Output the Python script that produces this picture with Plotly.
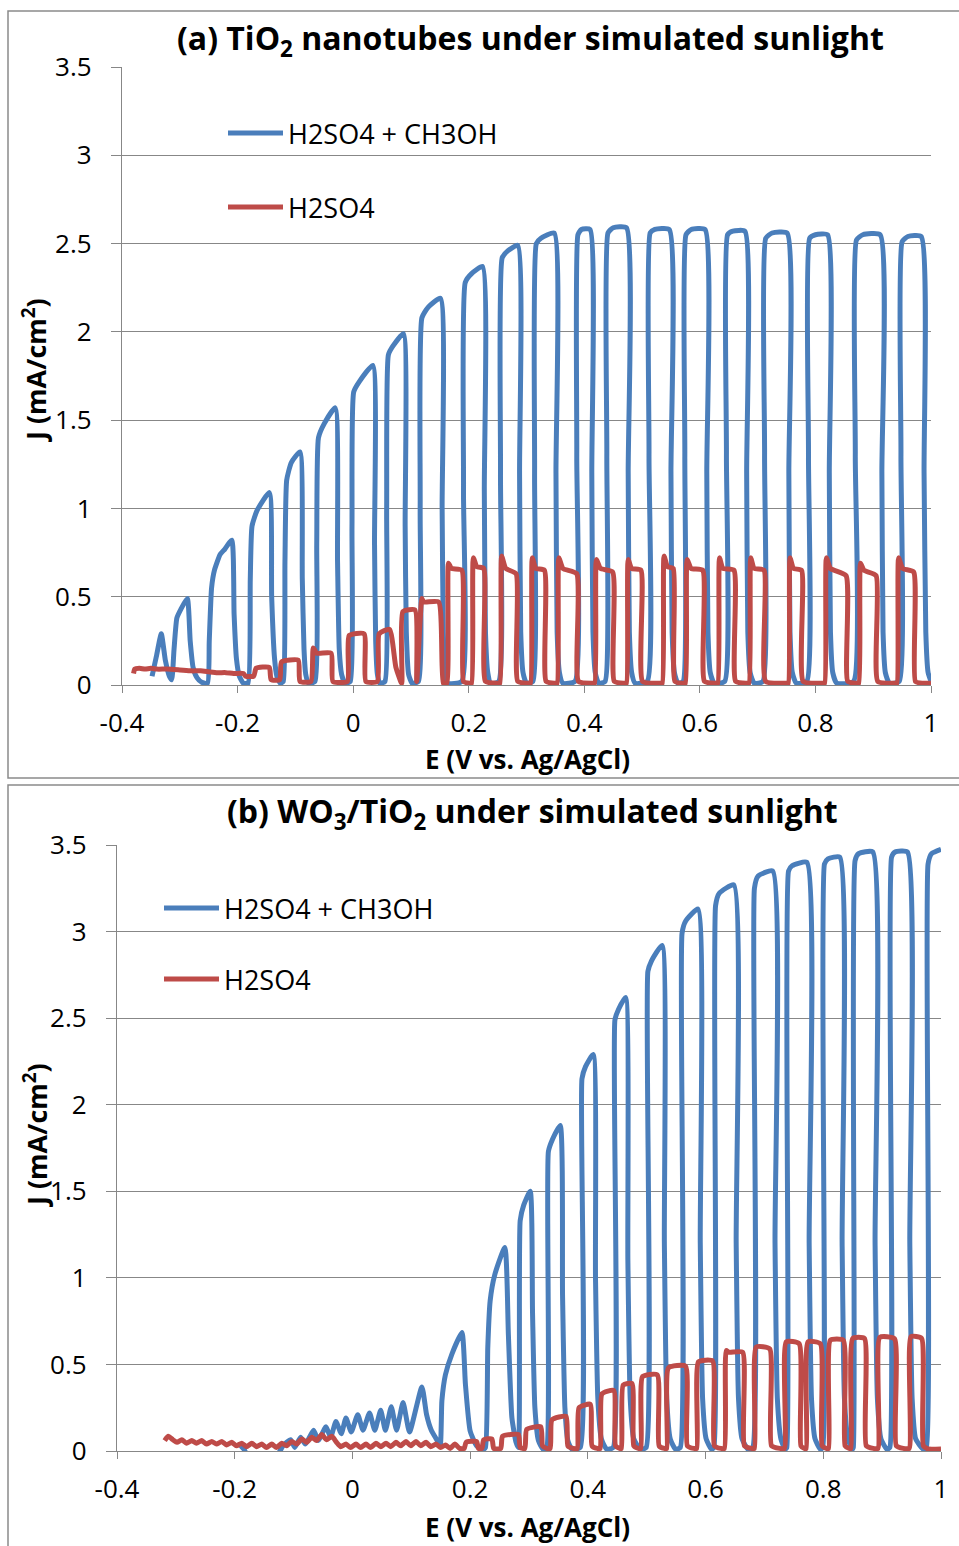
import plotly.graph_objects as go

W, H = 959, 1546

# ---------------- data (E in V vs Ag/AgCl, J in mA/cm2) ----------------
# Panel (a) TiO2 nanotubes, H2SO4 + CH3OH
a_blue = [
    (-0.348, 0.05), (-0.340, 0.17), (-0.332, 0.29), (-0.325, 0.14), (-0.318, 0.05), (-0.314, 0.03),
    (-0.310, 0.20), (-0.305, 0.38), (-0.298, 0.43), (-0.287, 0.49), (-0.282, 0.25), (-0.277, 0.10), (-0.270, 0.04), (-0.262, 0.015), (-0.252, 0.01),
    (-0.249, 0.25), (-0.245, 0.55), (-0.240, 0.65), (-0.230, 0.74), (-0.222, 0.77), (-0.210, 0.82), (-0.206, 0.40), (-0.202, 0.15), (-0.197, 0.05), (-0.190, 0.01),
    (-0.182, 0.01), (-0.178, 0.60), (-0.175, 0.90), (-0.166, 0.99), (-0.145, 1.09), (-0.141, 0.50), (-0.136, 0.15), (-0.132, 0.05), (-0.126, 0.01),
    (-0.121, 0.02), (-0.118, 0.70), (-0.115, 1.16), (-0.107, 1.26), (-0.092, 1.32), (-0.088, 0.60), (-0.085, 0.20), (-0.082, 0.06), (-0.077, 0.01),
    (-0.066, 0.02), (-0.063, 0.80), (-0.060, 1.40), (-0.050, 1.48), (-0.031, 1.57), (-0.027, 0.70), (-0.024, 0.20), (-0.020, 0.06), (-0.014, 0.01),
    (-0.005, 0.02), (-0.002, 0.90), (0.001, 1.66), (0.011, 1.72), (0.034, 1.81), (0.037, 0.80), (0.039, 0.25), (0.042, 0.06), (0.046, 0.01),
    (0.055, 0.02), (0.058, 1.00), (0.061, 1.87), (0.069, 1.92), (0.087, 1.99), (0.090, 0.90), (0.092, 0.30), (0.096, 0.06), (0.102, 0.01),
    (0.113, 0.02), (0.116, 1.00), (0.119, 2.08), (0.130, 2.14), (0.151, 2.19), (0.154, 1.00), (0.156, 0.30), (0.159, 0.07), (0.163, 0.01),
    (0.188, 0.02), (0.191, 1.10), (0.194, 2.28), (0.205, 2.33), (0.224, 2.37), (0.227, 1.10), (0.229, 0.30), (0.233, 0.07), (0.238, 0.01),
    (0.252, 0.02), (0.255, 1.20), (0.258, 2.42), (0.268, 2.46), (0.285, 2.49), (0.288, 1.20), (0.290, 0.30), (0.294, 0.07), (0.300, 0.01),
    (0.311, 0.02), (0.314, 1.20), (0.317, 2.50), (0.325, 2.53), (0.348, 2.56), (0.351, 1.20), (0.353, 0.30), (0.357, 0.07), (0.363, 0.01),
    (0.384, 0.02), (0.387, 1.30), (0.389, 2.55), (0.395, 2.58), (0.410, 2.58), (0.413, 1.20), (0.415, 0.30), (0.419, 0.07), (0.425, 0.01),
    (0.436, 0.02), (0.439, 1.30), (0.441, 2.56), (0.450, 2.59), (0.473, 2.59), (0.476, 1.20), (0.478, 0.30), (0.482, 0.07), (0.488, 0.01),
    (0.509, 0.02), (0.512, 1.30), (0.514, 2.56), (0.522, 2.58), (0.547, 2.58), (0.550, 1.20), (0.552, 0.30), (0.556, 0.07), (0.562, 0.01),
    (0.571, 0.02), (0.574, 1.30), (0.576, 2.55), (0.585, 2.58), (0.609, 2.58), (0.612, 1.20), (0.614, 0.30), (0.618, 0.07), (0.625, 0.01),
    (0.643, 0.02), (0.646, 1.30), (0.648, 2.55), (0.657, 2.57), (0.678, 2.57), (0.681, 1.20), (0.683, 0.30), (0.687, 0.07), (0.694, 0.01),
    (0.709, 0.02), (0.712, 1.30), (0.714, 2.53), (0.725, 2.56), (0.751, 2.56), (0.754, 1.20), (0.756, 0.30), (0.760, 0.07), (0.767, 0.01),
    (0.785, 0.02), (0.788, 1.30), (0.790, 2.53), (0.800, 2.55), (0.821, 2.55), (0.824, 1.20), (0.826, 0.30), (0.830, 0.07), (0.837, 0.01),
    (0.866, 0.02), (0.869, 1.30), (0.871, 2.52), (0.882, 2.55), (0.912, 2.55), (0.915, 1.20), (0.917, 0.30), (0.921, 0.07), (0.928, 0.01),
    (0.945, 0.02), (0.948, 1.30), (0.950, 2.51), (0.960, 2.54), (0.983, 2.54), (0.988, 1.20), (0.991, 0.30), (0.995, 0.07), (1.000, 0.02),
]

# Panel (a) TiO2 nanotubes, H2SO4
a_red = [
    (-0.380, 0.065), (-0.378, 0.09), (-0.370, 0.095), (-0.360, 0.09), (-0.350, 0.095), (-0.340, 0.09), (-0.322, 0.09),
    (-0.300, 0.085), (-0.280, 0.08), (-0.264, 0.08), (-0.250, 0.075), (-0.235, 0.07), (-0.220, 0.07), (-0.207, 0.065),
    (-0.190, 0.065), (-0.186, 0.05), (-0.172, 0.05), (-0.168, 0.095), (-0.145, 0.10), (-0.142, 0.03), (-0.127, 0.03),
    (-0.124, 0.13), (-0.095, 0.14), (-0.092, 0.02), (-0.073, 0.02), (-0.069, 0.21), (-0.063, 0.18), (-0.038, 0.18),
    (-0.035, 0.02), (-0.010, 0.02), (-0.007, 0.28), (0.019, 0.29), (0.022, 0.02), (0.042, 0.02), (0.045, 0.29),
    (0.063, 0.315), (0.074, 0.10), (0.084, 0.01), (0.086, 0.415), (0.107, 0.425), (0.110, 0.02), (0.119, 0.49),
    (0.122, 0.47), (0.148, 0.47), (0.156, 0.01), (0.162, 0.01),
    (0.165, 0.69), (0.170, 0.66), (0.188, 0.65), (0.191, 0.02), (0.201, 0.01),
    (0.205, 0.01), (0.208, 0.72), (0.214, 0.67), (0.226, 0.66), (0.229, 0.02), (0.250, 0.01),
    (0.254, 0.01), (0.257, 0.73), (0.264, 0.66), (0.282, 0.63), (0.285, 0.02), (0.303, 0.01),
    (0.307, 0.01), (0.310, 0.72), (0.316, 0.66), (0.331, 0.65), (0.334, 0.02), (0.349, 0.01),
    (0.353, 0.01), (0.356, 0.72), (0.363, 0.66), (0.387, 0.63), (0.390, 0.02), (0.414, 0.01),
    (0.418, 0.01), (0.421, 0.71), (0.428, 0.66), (0.449, 0.64), (0.452, 0.02), (0.469, 0.01),
    (0.473, 0.01), (0.476, 0.71), (0.482, 0.66), (0.498, 0.65), (0.501, 0.02), (0.531, 0.01),
    (0.535, 0.01), (0.538, 0.73), (0.544, 0.67), (0.554, 0.66), (0.557, 0.02), (0.571, 0.01),
    (0.575, 0.01), (0.578, 0.71), (0.585, 0.66), (0.605, 0.65), (0.608, 0.02), (0.627, 0.01),
    (0.631, 0.01), (0.634, 0.72), (0.640, 0.66), (0.659, 0.65), (0.662, 0.02), (0.681, 0.01),
    (0.685, 0.01), (0.688, 0.72), (0.694, 0.66), (0.711, 0.65), (0.714, 0.02), (0.749, 0.01),
    (0.753, 0.01), (0.756, 0.72), (0.762, 0.66), (0.776, 0.65), (0.779, 0.02), (0.812, 0.01),
    (0.816, 0.01), (0.819, 0.72), (0.826, 0.66), (0.853, 0.62), (0.856, 0.02), (0.871, 0.01),
    (0.875, 0.01), (0.878, 0.69), (0.884, 0.65), (0.905, 0.62), (0.908, 0.02), (0.937, 0.01),
    (0.941, 0.01), (0.944, 0.72), (0.951, 0.66), (0.970, 0.64), (0.973, 0.02), (0.985, 0.01), (1.000, 0.01),
]

# Panel (b) WO3/TiO2, H2SO4 + CH3OH
b_blue = [
    (-0.190, 0.01), (-0.186, 0.02), (-0.178, -0.03), (-0.160, -0.05), (-0.140, -0.04), (-0.125, -0.01),
    (-0.118, 0.03), (-0.105, 0.065), (-0.098, 0.02), (-0.088, 0.08), (-0.080, 0.04), (-0.066, 0.12),
    (-0.058, 0.06), (-0.045, 0.14), (-0.037, 0.08), (-0.028, 0.17), (-0.019, 0.10), (-0.011, 0.19),
    (-0.002, 0.11), (0.009, 0.21), (0.018, 0.12), (0.029, 0.22), (0.038, 0.12), (0.048, 0.235),
    (0.056, 0.12), (0.066, 0.255), (0.075, 0.12), (0.086, 0.28), (0.097, 0.11), (0.118, 0.37),
    (0.126, 0.21), (0.134, 0.12), (0.143, 0.067), (0.149, 0.03),
    (0.152, 0.29), (0.158, 0.44), (0.169, 0.56), (0.186, 0.684), (0.192, 0.385), (0.200, 0.116), (0.211, 0.03), (0.222, 0.01),
    (0.226, 0.02), (0.230, 0.60), (0.234, 0.867), (0.242, 1.02), (0.259, 1.175), (0.265, 0.67), (0.271, 0.19), (0.278, 0.05), (0.282, 0.02),
    (0.285, 1.33), (0.291, 1.42), (0.302, 1.50), (0.306, 0.80), (0.310, 0.25), (0.316, 0.06), (0.324, 0.01),
    (0.330, 0.02), (0.333, 1.73), (0.340, 1.80), (0.353, 1.88), (0.357, 0.90), (0.361, 0.25), (0.366, 0.06), (0.373, 0.01),
    (0.387, 0.02), (0.390, 2.15), (0.396, 2.22), (0.409, 2.29), (0.413, 1.00), (0.417, 0.30), (0.423, 0.07), (0.432, 0.01),
    (0.443, 0.02), (0.446, 2.49), (0.452, 2.55), (0.464, 2.62), (0.468, 1.10), (0.472, 0.30), (0.478, 0.07), (0.489, 0.01),
    (0.499, 0.02), (0.502, 2.77), (0.508, 2.83), (0.526, 2.92), (0.530, 1.20), (0.534, 0.30), (0.540, 0.07), (0.549, 0.01),
    (0.557, 0.02), (0.560, 2.99), (0.566, 3.06), (0.587, 3.13), (0.591, 1.20), (0.595, 0.30), (0.601, 0.07), (0.610, 0.01),
    (0.614, 0.02), (0.617, 3.15), (0.623, 3.22), (0.648, 3.27), (0.652, 1.20), (0.656, 0.30), (0.662, 0.07), (0.672, 0.01),
    (0.680, 0.02), (0.683, 3.25), (0.689, 3.32), (0.714, 3.35), (0.718, 1.20), (0.722, 0.30), (0.728, 0.07), (0.735, 0.01),
    (0.738, 0.02), (0.741, 3.35), (0.747, 3.38), (0.772, 3.40), (0.776, 1.20), (0.780, 0.30), (0.786, 0.07), (0.795, 0.01),
    (0.799, 0.02), (0.802, 3.39), (0.808, 3.42), (0.828, 3.43), (0.832, 1.20), (0.836, 0.30), (0.842, 0.07), (0.849, 0.01),
    (0.851, 0.02), (0.854, 3.41), (0.860, 3.45), (0.884, 3.46), (0.888, 1.20), (0.892, 0.30), (0.898, 0.07), (0.908, 0.01),
    (0.913, 0.02), (0.916, 3.43), (0.922, 3.46), (0.943, 3.46), (0.947, 1.20), (0.951, 0.30), (0.957, 0.07), (0.970, 0.01),
    (0.975, 0.02), (0.978, 3.39), (0.984, 3.45), (1.000, 3.475),
]

# Panel (b) WO3/TiO2, H2SO4
b_red = [
    (-0.319, 0.06), (-0.313, 0.085), (-0.305, 0.065), (-0.298, 0.05), (-0.290, 0.065), (-0.282, 0.045), (-0.273, 0.06),
    (-0.265, 0.045), (-0.256, 0.06), (-0.248, 0.04), (-0.239, 0.055), (-0.231, 0.04), (-0.222, 0.055), (-0.214, 0.035),
    (-0.205, 0.05), (-0.197, 0.03), (-0.188, 0.045), (-0.180, 0.025), (-0.171, 0.045), (-0.163, 0.025), (-0.154, 0.04),
    (-0.146, 0.02), (-0.137, 0.04), (-0.129, 0.02), (-0.120, 0.045), (-0.112, 0.03), (-0.103, 0.055), (-0.095, 0.04),
    (-0.086, 0.07), (-0.078, 0.05), (-0.069, 0.08), (-0.061, 0.06), (-0.052, 0.095), (-0.044, 0.065), (-0.035, 0.085),
    (-0.027, 0.05), (-0.020, 0.025), (-0.011, 0.04), (-0.003, 0.02), (0.006, 0.04), (0.014, 0.02), (0.023, 0.04),
    (0.031, 0.02), (0.040, 0.045), (0.048, 0.025), (0.057, 0.045), (0.065, 0.025), (0.074, 0.05), (0.082, 0.03),
    (0.091, 0.055), (0.099, 0.03), (0.108, 0.055), (0.116, 0.03), (0.125, 0.05), (0.133, 0.025), (0.142, 0.04),
    (0.150, 0.02), (0.158, 0.035), (0.166, 0.015), (0.174, 0.04), (0.182, 0.015),
    (0.190, 0.015), (0.193, 0.05), (0.211, 0.055), (0.214, 0.015), (0.220, 0.015), (0.223, 0.065), (0.237, 0.07),
    (0.240, 0.015), (0.252, 0.015), (0.255, 0.085), (0.282, 0.095), (0.285, 0.02), (0.293, 0.015),
    (0.296, 0.125), (0.320, 0.14), (0.323, 0.03), (0.330, 0.015), (0.336, 0.015),
    (0.339, 0.18), (0.363, 0.20), (0.366, 0.03), (0.375, 0.015), (0.382, 0.015),
    (0.385, 0.25), (0.404, 0.27), (0.407, 0.03), (0.416, 0.015), (0.421, 0.015),
    (0.424, 0.33), (0.444, 0.35), (0.447, 0.03), (0.454, 0.015), (0.457, 0.015),
    (0.460, 0.38), (0.475, 0.39), (0.478, 0.03), (0.486, 0.015), (0.490, 0.015),
    (0.493, 0.43), (0.518, 0.44), (0.521, 0.03), (0.530, 0.015), (0.534, 0.015),
    (0.537, 0.48), (0.566, 0.49), (0.569, 0.03), (0.580, 0.015), (0.585, 0.015),
    (0.588, 0.515), (0.612, 0.52), (0.615, 0.03), (0.626, 0.015), (0.632, 0.015),
    (0.635, 0.58), (0.640, 0.57), (0.663, 0.57), (0.666, 0.03), (0.678, 0.015), (0.683, 0.015),
    (0.686, 0.60), (0.709, 0.59), (0.712, 0.03), (0.726, 0.015), (0.734, 0.015),
    (0.737, 0.63), (0.759, 0.62), (0.762, 0.03), (0.768, 0.015), (0.771, 0.015),
    (0.774, 0.63), (0.795, 0.62), (0.798, 0.03), (0.805, 0.015), (0.809, 0.015),
    (0.812, 0.64), (0.834, 0.64), (0.837, 0.03), (0.844, 0.015), (0.847, 0.015),
    (0.850, 0.65), (0.870, 0.65), (0.873, 0.03), (0.885, 0.015), (0.893, 0.015),
    (0.896, 0.656), (0.921, 0.648), (0.924, 0.03), (0.936, 0.015), (0.946, 0.015),
    (0.949, 0.66), (0.967, 0.65), (0.970, 0.03), (0.978, 0.012), (1.000, 0.012),
]

series_names = ["H2SO4 + CH3OH", "H2SO4"]
titles = ["(a) TiO<sub>2</sub> nanotubes under simulated sunlight",
          "(b) WO<sub>3</sub>/TiO<sub>2</sub> under simulated sunlight"]
x_title = "E (V vs. Ag/AgCl)"
y_title = "J (mA/cm<sup>2</sup>)"
x_tickvals = [-0.4, -0.2, 0, 0.2, 0.4, 0.6, 0.8, 1.0]
x_ticktext = ["-0.4", "-0.2", "0", "0.2", "0.4", "0.6", "0.8", "1"]
y_tickvals = [0, 0.5, 1, 1.5, 2, 2.5, 3, 3.5]
y_ticktext = ["0", "0.5", "1", "1.5", "2", "2.5", "3", "3.5"]

BLUE = "#4A7EBB"
RED = "#BE4B48"
GRID = "#878787"
FONT = "Open Sans"


def px(x):
    return x / W


def py(y):
    return 1 - y / H


fig = go.Figure()

for data, color, xa, ya in [(a_blue, BLUE, "x", "y"), (a_red, RED, "x", "y"),
                            (b_blue, BLUE, "x2", "y2"), (b_red, RED, "x2", "y2")]:
    xs, ys = zip(*data)
    fig.add_trace(go.Scatter(x=list(xs), y=list(ys), mode="lines", xaxis=xa, yaxis=ya,
                             line=dict(color=color, width=5, shape="spline", smoothing=0.5),
                             showlegend=False, hoverinfo="skip"))

# plot-area pixel boxes: (left, right, top, bottom)
boxes = [(122, 931, 67, 685), (117, 941, 845, 1451)]

axis_common = dict(showline=True, linecolor=GRID, linewidth=1.3, ticks="outside",
                   tickcolor=GRID, tickwidth=1.3, zeroline=False, automargin=False,
                   tickfont=dict(family=FONT, size=26, color="black"))

layout_axes = {}
for i, (l, r, t, b) in enumerate(boxes):
    sfx = "" if i == 0 else "2"
    layout_axes["xaxis" + sfx] = dict(
        axis_common, domain=[px(l), px(r)], range=[-0.4, 1.0], tickvals=x_tickvals,
        ticktext=x_ticktext, showgrid=False, ticklen=7, anchor="y" + sfx,
        ticklabelstandoff=8)
    layout_axes["yaxis" + sfx] = dict(
        axis_common, domain=[py(b), py(t)], range=[0, 3.5], tickvals=y_tickvals,
        ticktext=y_ticktext, showgrid=True, gridcolor=GRID, gridwidth=1.3, ticklen=10,
        anchor="x" + sfx, ticklabelstandoff=14)

fig.update_layout(
    width=W, height=H, margin=dict(l=0, r=0, t=0, b=0, autoexpand=False),
    paper_bgcolor="white", plot_bgcolor="white", **layout_axes)

annotations = []
shapes = []
# panel borders
for (x0, y0, x1, y1) in [(8, 11, 975, 778), (8, 785, 975, 1560)]:
    shapes.append(dict(type="rect", xref="paper", yref="paper", x0=px(x0), x1=px(x1),
                       y0=py(y1), y1=py(y0), line=dict(color="#8a8a8a", width=1.5)))

title_pos = [(530, 40), (532, 813)]
xt_pos = [(527, 759), (527, 1527)]
yt_pos = [(35, 370), (35, 1135)]
legend_pos = [(228, 283, 133, 207), (164, 219, 908, 979)]

for i in range(2):
    annotations.append(dict(text="<b>%s</b>" % titles[i], xref="paper", yref="paper",
                            x=px(title_pos[i][0]), y=py(title_pos[i][1]), showarrow=False,
                            xanchor="center", yanchor="middle",
                            font=dict(family=FONT, size=32, color="black")))
    annotations.append(dict(text="<b>%s</b>" % x_title, xref="paper", yref="paper",
                            x=px(xt_pos[i][0]), y=py(xt_pos[i][1]), showarrow=False,
                            xanchor="center", yanchor="middle",
                            font=dict(family=FONT, size=26, color="black")))
    annotations.append(dict(text="<b>%s</b>" % y_title, xref="paper", yref="paper",
                            x=px(yt_pos[i][0]), y=py(yt_pos[i][1]), showarrow=False,
                            xanchor="center", yanchor="middle", textangle=-90,
                            font=dict(family=FONT, size=27, color="black")))
    lx0, lx1, ly_b, ly_r = legend_pos[i]
    for name, color, ly in [(series_names[0], BLUE, ly_b), (series_names[1], RED, ly_r)]:
        shapes.append(dict(type="line", xref="paper", yref="paper", x0=px(lx0), x1=px(lx1),
                           y0=py(ly), y1=py(ly), line=dict(color=color, width=5)))
        annotations.append(dict(text=name, xref="paper", yref="paper", x=px(lx1 + 3),
                                y=py(ly), showarrow=False, xanchor="left", yanchor="middle",
                                font=dict(family=FONT, size=27, color="black")))

fig.update_layout(annotations=annotations, shapes=shapes)

fig.write_html("out.html", config={"displayModeBar": False},
               post_script="document.body.style.margin='0px';document.body.style.padding='0px';"
                           "document.body.style.overflow='hidden';")
